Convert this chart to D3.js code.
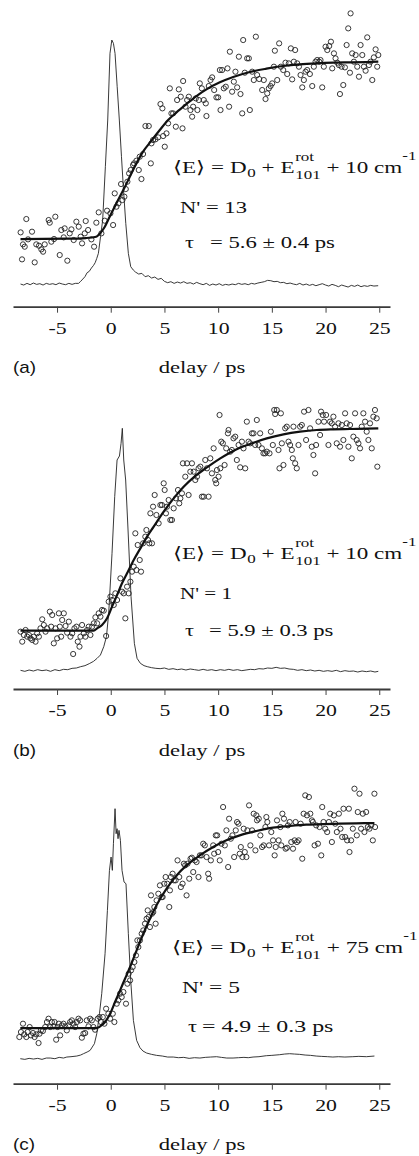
<!DOCTYPE html>
<html lang="en">
<head>
<meta charset="UTF-8" />
<title>Delay scans (a)-(c)</title>
<script src="https://cdnjs.cloudflare.com/ajax/libs/d3/7.8.5/d3.min.js"></script>
<style>
    body { margin: 0; background: #fff; }
    svg { display: block; }
    .serif { font-family: 'Liberation Serif', 'Times New Roman', serif; fill: #111; white-space: pre; }
    .sans { font-family: 'Liberation Sans', Arial, sans-serif; fill: #111; }
</style>
</head>
<body>
<svg id="chart" width="419" height="1156"></svg>
<script>
// delay in ps, signal in arbitrary units (0 = axis line)
const delayTicks = [-5, 0, 5, 10, 15, 20, 25];
const panelLabels = ["(a)", "(b)", "(c)"];
const energies = ["10", "10", "75"];
const nPrime = ["13", "1", "5"];
const taus = ["5.6 ± 0.4", "5.9 ± 0.3", "4.9 ± 0.3"];

const pointsA = [[-8.39,22.3],[-8.26,14.2],[-8.17,18.7],[-8.01,18.0],[-7.86,26.3],[-7.70,20.2],[-7.33,22.5],[-7.08,13.3],[-6.93,18.7],[-6.68,18.3],[-6.46,17.2],[-6.30,16.5],[-6.15,18.7],[-5.78,26.0],[-5.68,25.2],[-5.53,19.5],[-5.28,20.3],[-5.16,27.0],[-4.75,15.5],[-4.60,23.0],[-4.38,20.8],[-4.29,23.5],[-4.04,13.8],[-3.82,22.0],[-3.66,23.2],[-3.45,20.0],[-3.20,25.5],[-2.98,24.0],[-2.80,21.0],[-2.67,19.0],[-2.42,22.0],[-2.33,25.7],[-2.11,23.0],[-1.80,20.2],[-1.55,18.0],[-1.34,25.2],[-1.12,28.3],[-0.87,22.0],
    [-0.56,25.8],[-0.34,28.8],[-0.03,28.0],[0.22,24.5],[0.37,34.0],[0.53,30.0],[0.71,31.0],[0.96,36.8],[1.09,32.0],[1.27,33.0],[1.40,35.3],[1.55,37.5],[1.71,40.0],[1.86,41.0],[2.08,42.5],[2.17,43.0],[2.39,43.8],[2.61,41.0],[2.86,38.3],[2.70,45.0],[3.01,45.8],[3.23,54.2],[3.54,54.2],[3.73,43.0],[3.79,49.0],[3.94,50.0],[4.16,50.2],[4.41,50.8],[4.63,60.8],[4.81,59.5],[4.88,51.2],[5.03,48.0],[5.19,52.0],[5.34,55.0],[5.50,65.5],[5.65,58.0],[5.81,58.0],[6.06,54.0],[6.18,62.0],[6.34,65.2],[6.52,63.0],[6.68,53.5],[6.74,67.7],[6.96,60.0],[7.11,62.0],[7.27,63.0],[7.42,59.0],[7.58,57.0],[7.67,60.0],[7.92,62.5],[8.07,59.0],[8.20,62.0],[8.29,67.0],[8.48,65.5],[8.66,62.0],[8.85,61.0],[8.91,57.2],[9.13,66.2],[9.29,68.0],[9.44,68.8],[9.63,65.0],[9.84,62.8],[10.0,62.8],[10.16,71.0],[10.22,59.0],[10.37,71.0],[10.53,65.5],[10.71,66.0],[10.87,71.5],[11.02,60.0],[11.09,76.5],[11.30,64.5],[11.46,67.5],[11.61,70.5],[11.77,65.8],[11.93,75.0],[12.08,63.8],[12.24,58.0],[12.33,80.0],[12.48,70.2],[12.70,74.5],[12.86,74.5],[12.95,59.0],[13.17,70.5],[13.32,68.0],[13.51,81.0],[13.63,69.5],[13.82,68.3],[14.10,65.0],[14.25,68.0],[14.41,62.3],[14.57,64.0],[14.72,65.5],[14.88,66.2],[15.03,67.0],[15.19,72.0],[15.28,76.8],[15.50,68.0],[15.68,79.0],[15.84,72.0],[16.06,71.0],[16.27,73.2],[16.43,69.8],[16.58,73.0],[16.77,77.5],[16.89,68.2],[17.05,73.5],[17.17,77.0],[17.36,73.0],[17.52,72.0],[17.67,69.5],[17.83,65.8],[17.98,68.0],[18.14,70.5],[18.29,71.0],[18.54,69.8],[18.76,66.2],[18.91,72.0],[19.07,73.5],[19.22,74.0],[19.41,73.5],[19.53,74.0],[19.69,65.8],[19.84,72.0],[20.0,78.0],[20.16,77.0],[20.34,78.2],[20.50,79.5],[20.62,71.5],[20.78,76.0],[20.93,74.5],[21.09,73.2],[21.24,72.5],[21.34,63.8],[21.49,72.0],[21.65,66.5],[21.80,71.8],[21.96,78.5],[22.11,83.5],[22.33,88.0],[22.27,70.2],[22.48,76.0],[22.64,73.5],[22.80,75.5],[22.95,72.0],[23.11,69.0],[23.26,78.5],[23.42,75.5],[23.57,72.0],[23.73,70.8],[23.88,80.8],[24.04,72.5],[24.19,73.5],[24.35,68.0],[24.50,74.8],[24.66,77.2],[24.81,72.0],[24.91,75.5]];

const fitA = [[-8.4,20.3],[-4.1,20.4],[-2.3,20.6],[-1.35,21.0],[-1.0,22.0],[-0.55,24.0],[-0.1,27.0],[0.37,30.0],[0.84,33.0],[1.3,35.8],[1.77,39.0],[2.39,43.0],[3.01,46.5],[3.79,49.8],[4.57,53.0],[5.34,56.0],[6.12,58.3],[7.05,60.8],[7.98,63.2],[8.91,65.2],[10.16,67.3],[11.4,68.9],[12.95,70.4],[14.5,71.4],[16.06,72.2],[17.61,72.7],[19.16,73.0],[20.71,73.2],[22.27,73.3],[23.82,73.4],[24.91,73.5]];

const traceA = [[-8.4,6.8],[-8.1,6.5],[-7.8,7.0],[-7.5,6.6],[-7.2,7.1],[-6.9,6.7],[-6.6,6.9],[-6.3,6.5],[-6.0,7.0],[-5.7,6.7],[-5.4,6.9],[-5.1,6.6],[-4.8,7.1],[-4.5,6.8],[-4.2,6.6],[-3.9,7.0],[-3.6,6.7],[-3.3,7.0],[-3.0,7.0],[-2.8,7.6],[-2.6,8.3],[-2.4,9.0],[-2.2,10.2],[-2.0,10.6],[-1.8,11.6],[-1.6,12.4],[-1.45,13.2],[-1.3,14.5],[-1.15,16.0],[-0.95,21.0],[-0.75,26.0],[-0.5,42.0],[-0.28,56.0],[-0.07,76.0],[0.1,80.0],[0.25,79.0],[0.4,76.0],[0.6,66.0],[0.8,56.0],[1.0,45.0],[1.17,36.0],[1.4,25.0],[1.64,16.0],[1.86,12.0],[2.1,11.0],[2.3,10.4],[2.6,9.8],[2.9,10.0],[3.2,9.0],[3.5,9.3],[3.8,8.6],[4.1,8.9],[4.4,8.2],[4.7,8.5],[5.0,7.6],[5.3,7.2],[5.6,7.5],[5.9,7.0],[6.2,7.4],[6.5,7.1],[6.8,7.5],[7.1,7.0],[7.4,7.2],[7.7,6.8],[8.0,7.3],[8.3,6.9],[8.6,6.6],[8.9,7.0],[9.2,6.4],[9.5,6.8],[9.8,6.5],[10.1,6.9],[10.4,6.4],[10.7,6.7],[11.0,6.5],[11.3,6.8],[11.6,6.6],[11.9,7.0],[12.2,6.7],[12.5,6.9],[12.8,6.6],[13.1,7.0],[13.4,6.8],[13.7,7.1],[14.0,7.3],[14.3,7.5],[14.6,7.9],[14.9,7.8],[15.2,7.5],[15.5,7.6],[15.8,7.2],[16.1,7.3],[16.4,6.9],[16.7,7.1],[17.0,6.8],[17.3,6.6],[17.6,7.0],[17.9,6.5],[18.2,6.8],[18.5,6.4],[18.8,6.7],[19.1,6.3],[19.4,6.6],[19.7,6.9],[20.0,6.5],[20.3,6.2],[20.6,6.7],[20.9,6.4],[21.2,6.0],[21.5,6.5],[21.8,6.2],[22.1,5.9],[22.4,6.4],[22.7,6.1],[23.0,6.5],[23.3,6.0],[23.6,6.3],[23.9,6.1],[24.2,6.4],[24.5,6.2],[24.9,6.3]];

const pointsB = [[-8.40,17.2],[-8.24,14.2],[-8.09,16.2],[-7.93,17.7],[-7.78,15.7],[-7.62,16.2],[-7.47,15.2],[-7.31,14.7],[-7.16,15.7],[-7.00,14.2],[-6.85,16.7],[-6.69,15.7],[-6.54,18.2],[-6.38,20.9],[-6.23,19.2],[-6.07,17.2],[-5.92,18.2],[-5.67,23.2],[-5.55,18.7],[-5.45,22.2],[-5.30,13.7],[-5.14,18.2],[-4.99,15.2],[-4.83,22.7],[-4.74,18.7],[-4.62,15.7],[-4.52,20.7],[-4.37,22.7],[-4.21,18.9],[-4.06,16.9],[-3.90,20.2],[-3.75,15.7],[-3.59,16.7],[-3.50,10.5],[-3.38,18.2],[-3.19,18.7],[-3.07,14.2],[-2.91,12.7],[-2.82,15.7],[-2.67,19.2],[-2.51,16.7],[-2.36,15.7],[-2.20,17.7],[-2.05,18.7],[-1.89,16.2],[-1.74,18.7],[-1.58,19.7],[-1.43,21.5],[-1.27,19.7],[-1.12,22.7],[-0.96,21.7],[-0.81,23.7],[-0.65,23.5],[-0.43,15.9],
    [-0.19,26.2],[-0.03,27.7],[0.12,26.7],[0.28,25.2],[0.43,28.7],[0.59,26.7],[0.90,33.2],[1.05,29.2],[1.21,28.7],[1.36,21.2],[1.52,30.7],[1.67,28.7],[1.83,32.2],[1.98,35.2],[2.14,36.7],[2.29,46.7],[2.39,35.7],[2.51,43.2],[2.70,38.7],[2.82,35.2],[3.01,43.7],[3.22,45.7],[3.32,47.7],[3.47,44.7],[3.59,43.7],[3.69,52.7],[3.84,43.7],[3.94,54.7],[4.09,58.2],[4.25,52.2],[4.46,49.7],[4.62,55.2],[4.77,55.2],[4.93,61.7],[5.02,59.7],[5.14,52.7],[5.24,54.7],[5.39,56.7],[5.55,50.7],[5.70,50.7],[5.86,54.2],[6.07,57.2],[6.26,59.7],[6.38,55.7],[6.48,57.2],[6.63,58.7],[6.72,67.7],[6.94,63.7],[7.10,67.7],[7.25,58.2],[7.41,65.2],[7.56,67.7],[7.72,65.2],[7.87,62.7],[8.03,63.7],[8.18,66.2],[8.34,66.7],[8.49,57.7],[8.65,57.7],[8.80,68.7],[8.96,66.2],[9.11,57.7],[9.27,69.2],[9.42,64.7],[9.58,72.2],[9.73,62.7],[9.82,61.7],[9.89,65.7],[10.04,63.7],[10.13,82.2],[10.20,66.2],[10.29,74.2],[10.44,73.7],[10.60,67.2],[10.75,72.2],[10.91,76.7],[10.97,77.7],[11.12,71.2],[11.28,71.7],[11.43,75.2],[11.59,75.7],[11.74,68.7],[11.90,73.2],[12.05,66.5],[12.21,74.2],[12.36,72.2],[12.52,66.2],[12.67,80.2],[12.83,74.2],[12.98,73.7],[13.14,76.7],[13.29,76.7],[13.45,73.2],[13.60,80.7],[13.76,73.2],[13.91,76.7],[14.07,72.2],[14.22,70.7],[14.38,70.7],[14.53,71.2],[14.78,70.7],[14.91,77.2],[15.09,73.2],[15.22,83.7],[15.31,82.5],[15.46,83.7],[15.62,71.7],[15.71,66.2],[15.84,82.7],[15.93,73.7],[16.08,67.2],[16.24,78.2],[16.39,78.7],[16.55,74.2],[16.70,73.2],[16.86,71.7],[16.95,69.2],[17.01,78.7],[17.17,67.7],[17.32,66.2],[17.48,73.2],[17.63,78.7],[17.79,79.2],[18.00,83.2],[18.19,74.7],[18.41,83.7],[18.56,78.2],[18.72,72.7],[18.87,70.2],[19.03,64.7],[19.12,73.2],[19.34,80.2],[19.49,76.2],[19.58,83.2],[19.74,82.2],[19.86,80.2],[20.05,82.2],[20.27,73.2],[20.42,80.2],[20.58,79.7],[20.73,81.7],[20.89,78.7],[21.04,73.7],[21.20,79.7],[21.35,72.7],[21.51,79.2],[21.66,74.7],[21.82,82.7],[21.97,79.7],[22.13,72.7],[22.28,79.2],[22.44,69.2],[22.59,75.7],[22.75,82.7],[22.90,74.7],[23.06,73.7],[23.21,72.2],[23.37,78.7],[23.52,82.7],[23.68,80.2],[23.83,77.2],[23.99,74.7],[24.14,79.7],[24.30,72.2],[24.45,81.7],[24.60,83.7],[24.76,81.2],[24.82,66.7]];

const fitB = [[-8.4,17.5],[-1.58,17.5],[-1.27,18.2],[-0.81,19.2],[-0.34,21.2],[0.12,24.7],[0.59,28.2],[1.05,31.7],[1.52,34.7],[2.14,38.7],[2.76,42.2],[3.38,45.7],[4.0,48.7],[4.93,53.2],[5.86,57.2],[6.79,60.7],[7.72,63.5],[8.96,66.5],[10.2,69.2],[11.44,71.5],[12.98,73.5],[14.53,75.2],[16.08,76.4],[17.63,77.2],[19.18,77.7],[20.73,77.9],[22.28,78.0],[23.83,78.1],[24.91,78.2]];

const traceB = [[-8.4,5.6],[-8.0,5.3],[-7.6,5.7],[-7.2,5.4],[-6.8,5.8],[-6.4,5.5],[-6.0,5.7],[-5.6,5.3],[-5.2,5.8],[-4.8,5.5],[-4.4,5.9],[-4.0,5.8],[-3.6,6.2],[-3.2,6.3],[-2.8,6.7],[-2.4,7.0],[-2.0,7.6],[-1.6,8.3],[-1.27,9.2],[-0.96,10.2],[-0.65,12.7],[-0.4,15.7],[-0.19,22.7],[0.12,40.7],[0.37,57.7],[0.59,68.7],[0.81,69.9],[0.96,73.7],[1.08,78.2],[1.21,68.7],[1.39,62.7],[1.61,47.7],[1.89,27.7],[2.2,13.7],[2.45,9.2],[2.76,7.7],[3.1,7.0],[3.4,6.7],[3.8,6.4],[4.2,6.2],[4.6,6.1],[5.0,6.3],[5.4,5.9],[5.8,6.1],[6.2,5.8],[6.6,6.0],[7.0,5.7],[7.4,6.0],[7.8,5.8],[8.2,5.6],[8.6,5.9],[9.0,5.6],[9.4,5.8],[9.8,5.5],[10.2,5.8],[10.6,5.6],[11.0,5.9],[11.4,5.6],[11.8,5.8],[12.2,5.5],[12.6,5.7],[13.0,5.9],[13.4,5.8],[13.8,6.1],[14.2,6.0],[14.6,6.3],[15.0,6.2],[15.4,6.5],[15.8,6.2],[16.2,6.3],[16.6,6.0],[17.0,5.9],[17.4,5.6],[17.8,5.8],[18.2,5.5],[18.6,5.7],[19.0,5.4],[19.4,5.6],[19.8,5.3],[20.2,5.5],[20.6,5.3],[21.0,5.6],[21.4,5.2],[21.8,5.5],[22.2,5.3],[22.6,5.4],[23.0,5.1],[23.4,5.4],[23.8,5.2],[24.2,5.4],[24.6,5.1],[24.91,5.3]];

const pointsC = [[-8.51,14.0],[-8.36,15.5],[-8.17,18.0],[-8.05,14.8],[-7.86,14.0],[-7.74,15.5],[-7.55,17.0],[-7.43,14.5],[-7.24,15.2],[-7.09,14.0],[-6.93,14.8],[-6.72,12.2],[-6.63,15.0],[-6.50,16.0],[-6.32,15.8],[-6.10,17.0],[-5.94,18.5],[-5.79,19.5],[-5.63,17.0],[-5.48,18.5],[-5.33,17.2],[-5.23,18.5],[-5.08,13.2],[-4.95,17.0],[-4.83,18.0],[-4.71,14.5],[-4.55,17.5],[-4.40,18.0],[-4.24,17.2],[-4.09,16.0],[-3.93,17.5],[-3.78,18.5],[-3.62,19.0],[-3.47,18.0],[-3.31,17.0],[-3.16,18.5],[-3.00,19.5],[-2.85,19.0],[-2.69,13.8],[-2.54,15.0],[-2.38,15.2],[-2.23,19.0],[-2.07,17.2],[-1.92,19.5],[-1.76,19.0],[-1.61,17.0],[-1.46,16.2],[-1.21,19.5],[-1.05,20.0],[-0.90,18.5],[-0.74,20.0],[-0.59,18.0],[-0.43,22.5],[-0.22,21.0],[-0.06,19.5],[0.19,21.0],[0.34,18.5],
    [0.56,24.0],[0.71,25.0],[0.87,27.0],[1.02,26.0],[1.18,27.5],[1.42,24.0],[1.55,30.0],[1.67,33.0],[1.80,31.0],[1.89,34.0],[2.04,35.0],[2.20,36.5],[2.35,38.5],[2.48,43.0],[2.57,41.0],[2.72,43.0],[2.88,45.0],[3.03,46.0],[3.19,48.0],[3.34,49.5],[3.44,52.0],[3.53,50.0],[3.65,47.0],[3.75,56.5],[3.84,51.0],[3.96,51.5],[4.06,53.0],[4.18,48.0],[4.27,55.0],[4.43,57.0],[4.58,59.5],[4.74,56.0],[4.83,56.0],[4.98,60.0],[5.11,62.0],[5.26,60.0],[5.45,53.0],[5.51,58.0],[5.60,62.0],[5.76,63.0],[5.88,61.0],[6.04,61.0],[6.22,67.0],[6.38,62.0],[6.53,59.0],[6.69,60.0],[6.81,66.0],[6.93,65.5],[7.06,56.5],[7.15,66.0],[7.31,61.5],[7.43,67.5],[7.55,67.8],[7.68,63.5],[7.83,67.0],[7.99,66.5],[8.17,62.0],[8.30,68.5],[8.45,68.5],[8.61,72.0],[8.76,71.5],[8.92,68.0],[9.07,63.0],[9.16,61.5],[9.32,67.0],[9.54,71.5],[9.63,69.0],[9.78,74.5],[9.91,74.5],[10.0,69.5],[10.15,67.0],[10.31,72.0],[10.46,83.0],[10.62,71.5],[10.77,76.0],[10.93,65.0],[11.02,79.5],[11.18,73.5],[11.33,74.5],[11.49,68.0],[11.64,76.0],[11.76,78.5],[11.89,78.0],[12.01,69.0],[12.11,71.0],[12.26,68.0],[12.38,76.5],[12.48,69.5],[12.63,68.0],[12.72,76.0],[12.88,83.5],[13.00,71.5],[13.16,76.0],[13.31,81.0],[13.47,70.0],[13.56,80.5],[13.62,79.0],[13.78,79.5],[13.93,74.5],[14.09,71.0],[14.24,71.5],[14.40,77.0],[14.49,80.0],[14.58,78.5],[14.74,71.5],[14.95,75.5],[15.11,73.0],[15.26,68.5],[15.36,71.0],[15.48,79.0],[15.63,73.0],[15.79,77.0],[15.88,71.5],[15.98,81.0],[16.13,79.5],[16.28,70.5],[16.41,70.8],[16.50,77.5],[16.66,78.5],[16.81,72.5],[16.97,70.5],[17.12,73.0],[17.21,78.5],[17.34,72.5],[17.49,73.0],[17.68,78.0],[17.83,67.5],[17.96,81.0],[18.11,86.5],[18.27,80.5],[18.45,86.0],[18.58,81.0],[18.73,79.0],[18.82,78.5],[18.98,71.5],[19.13,77.5],[19.29,72.0],[19.44,77.0],[19.60,68.5],[19.69,83.0],[19.81,78.5],[19.97,76.5],[20.15,75.5],[20.31,78.5],[20.43,81.0],[20.59,72.5],[20.77,80.5],[20.90,78.0],[21.05,75.5],[21.24,81.0],[21.39,76.5],[21.55,74.0],[21.67,82.5],[21.83,74.0],[22.01,73.0],[22.17,82.5],[22.23,69.5],[22.38,73.0],[22.54,76.5],[22.69,88.5],[22.91,74.5],[23.00,81.5],[23.16,87.0],[23.31,76.5],[23.47,81.0],[23.62,75.5],[23.78,81.5],[23.93,77.0],[24.09,76.5],[24.24,77.5],[24.40,73.0],[24.55,87.0],[24.61,77.0]];

const fitC = [[-8.42,16.7],[-1.3,16.7],[-0.99,17.2],[-0.53,18.5],[-0.06,21.0],[0.4,24.5],[0.87,28.0],[1.33,31.5],[1.8,35.0],[2.41,40.0],[3.03,45.0],[3.65,49.5],[4.43,54.5],[5.2,58.5],[6.13,62.5],[7.06,65.5],[8.3,68.5],[9.54,71.0],[10.77,73.0],[12.01,74.5],[13.56,75.8],[15.11,76.8],[16.66,77.3],[18.2,77.7],[19.75,77.9],[21.3,78.0],[22.85,78.1],[24.55,78.2]];

const traceC = [[-8.42,7.5],[-8.0,7.3],[-7.6,7.6],[-7.2,7.4],[-6.8,7.6],[-6.4,7.3],[-6.0,7.7],[-5.63,7.7],[-5.2,7.5],[-4.8,7.9],[-4.4,7.7],[-4.09,8.0],[-3.7,8.1],[-3.16,8.3],[-2.8,8.6],[-2.54,9.0],[-2.2,9.5],[-1.92,10.0],[-1.52,12.0],[-1.3,15.0],[-1.05,21.0],[-0.84,27.0],[-0.53,39.0],[-0.31,52.0],[-0.12,64.0],[0.03,68.0],[0.15,64.0],[0.25,72.0],[0.4,82.5],[0.5,75.0],[0.59,76.5],[0.68,73.5],[0.77,76.0],[0.9,73.0],[1.05,64.0],[1.24,60.5],[1.42,60.0],[1.64,45.0],[1.86,31.0],[2.11,19.0],[2.41,13.0],[2.72,10.8],[3.0,9.8],[3.34,9.2],[3.8,8.8],[4.27,8.5],[4.8,8.3],[5.3,8.0],[5.82,8.0],[6.3,7.8],[6.8,7.9],[7.3,7.6],[7.8,7.8],[8.3,7.7],[8.8,7.9],[9.3,8.0],[9.85,8.1],[10.3,7.9],[10.8,7.7],[11.39,7.7],[11.9,7.8],[12.4,7.9],[12.8,7.8],[13.25,8.0],[13.8,8.1],[14.49,8.4],[15.0,8.5],[15.73,8.7],[16.2,8.9],[16.66,9.0],[17.1,8.9],[17.59,8.8],[18.1,8.6],[18.6,8.5],[19.13,8.3],[19.6,8.2],[20.2,8.1],[20.68,8.0],[21.2,8.1],[21.8,8.0],[22.54,8.1],[23.1,8.2],[23.8,8.1],[24.55,8.3]];

// panel layout: axis line position; notes = [x, baseline, right end] per text line, and gap before "="
const panels = [
    { points: pointsA, fit: fitA, trace: traceA, axisY: 306.7,
      notes: [[173, 173, 416.5], [180, 213, 247], [185, 248, 335]], eqGap: 25 },
    { points: pointsB, fit: fitB, trace: traceB, axisY: 689,
      notes: [[173, 559, 416.5], [180, 599, 232], [185, 636, 333.5]], eqGap: 24 },
    { points: pointsC, fit: fitC, trace: traceC, axisY: 1083.7,
      notes: [[172, 953, 417.5], [182, 993, 240], [188, 1031.5, 333.5]], eqGap: 14 }
];

const svg = d3.select("#chart");
const x = d3.scaleLinear().domain([-9.1, 26]).range([13, 390]);

// text in the figure is horizontally stretched: lay out parts, then scale to the target end
function richText(g, x0, y0, x1, parts) {
    const t = g.append("g");
    let cx = 0;
    parts.forEach(p => {
        if (p.stack) {
            let w = 0;
            p.stack.forEach(s => {
                const el = t.append("text").attr("class", "serif")
                    .attr("x", cx + 0.5).attr("y", s.dy)
                    .attr("font-size", p.size).text(s.t);
                w = Math.max(w, el.node().getComputedTextLength() + 0.5);
            });
            cx += w;
        } else {
            const el = t.append("text").attr("class", "serif")
                .attr("x", cx).attr("y", p.dy || 0)
                .attr("font-size", p.size || 17).text(p.t);
            cx += el.node().getComputedTextLength();
        }
    });
    const sx = (x1 - x0) / cx;
    t.attr("transform", `translate(${x0},${y0}) scale(${sx},1)`);
}

panels.forEach((p, i) => {
    const g = svg.append("g");
    const y = d3.scaleLinear().domain([0, 92]).range([p.axisY, p.axisY - 92 * 10 / 3]);

    // cross-correlation trace
    g.append("path")
        .datum(p.trace)
        .attr("fill", "none")
        .attr("stroke", "#222")
        .attr("stroke-width", 0.9)
        .attr("d", d3.line().x(d => x(d[0])).y(d => y(d[1])));

    // data points
    g.append("g")
        .selectAll("circle")
        .data(p.points)
        .join("circle")
        .attr("cx", d => x(d[0]))
        .attr("cy", d => y(d[1]))
        .attr("r", 2.6)
        .attr("fill", "none")
        .attr("stroke", "#222")
        .attr("stroke-width", 0.9);

    // fit
    g.append("path")
        .datum(p.fit)
        .attr("fill", "none")
        .attr("stroke", "#111")
        .attr("stroke-width", 2.2)
        .attr("d", d3.line().curve(d3.curveMonotoneX).x(d => x(d[0])).y(d => y(d[1])));

    // axis
    const ax = g.append("g")
        .attr("transform", `translate(0,${p.axisY})`)
        .call(d3.axisBottom(x).tickValues(delayTicks).tickSize(6).tickSizeOuter(0).tickFormat(d => String(d)));
    ax.select(".domain").attr("stroke", "#3a3a3a").attr("stroke-width", 1.8);
    ax.selectAll(".tick line").attr("stroke", "#444").attr("stroke-width", 1);
    ax.selectAll(".tick text")
        .attr("class", "serif")
        .attr("font-size", 17)
        .attr("y", 27).attr("dy", 0)
        .attr("transform", "scale(1.28,1)");

    // axis title and panel label
    g.append("text").attr("class", "serif")
        .attr("font-size", 17)
        .attr("text-anchor", "middle")
        .attr("transform", `translate(${x(8.5)},${p.axisY + 66.5}) scale(1.33,1)`)
        .text("delay / ps");
    g.append("text").attr("class", "sans")
        .attr("font-size", 16)
        .attr("transform", `translate(13,${p.axisY + 66.5}) scale(1.18,1)`)
        .text(panelLabels[i]);

    // annotations
    const [l1, l2, l3] = p.notes;
    richText(g, l1[0], l1[1], l1[2], [
        { t: "⟨E⟩ = D" },
        { t: "0", size: 12.5, dy: 3.5 },
        { t: " + E" },
        { stack: [{ t: "rot", dy: -12 }, { t: "101", dy: 6 }], size: 12.5 },
        { t: " + " + energies[i] + " cm" },
        { t: "-1", size: 12.5, dy: -13 }
    ]);
    richText(g, l2[0], l2[1], l2[2], [{ t: "N' = " + nPrime[i] }]);
    richText(g, l3[0], l3[1], l3[0] + 9, [{ t: "τ" }]);
    richText(g, l3[0] + p.eqGap, l3[1], l3[2], [{ t: "= " + taus[i] + " ps" }]);
});
</script>
</body>
</html>
